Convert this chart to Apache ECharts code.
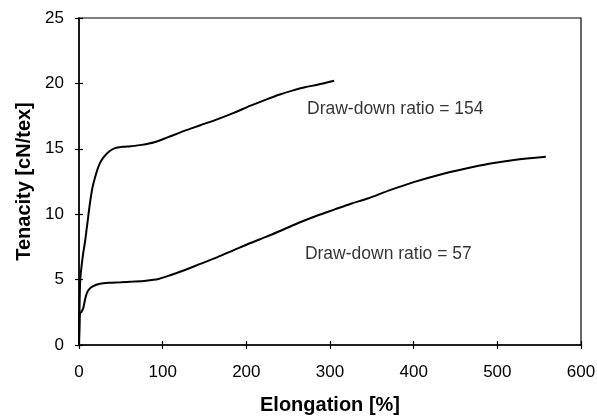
<!DOCTYPE html>
<html>
<head>
<meta charset="utf-8">
<script src="https://cdn.jsdelivr.net/npm/echarts@6/dist/echarts.min.js"></script>
<style>html,body{margin:0;padding:0;background:#fff}#c{width:597px;height:416px}</style>
</head>
<body>
<div id="c"></div>
<script>
// Draw-down ratio = 154 (elongation %, tenacity cN/tex)
var ddr154X = [0, 0.8, 1.5, 3, 5, 7, 9, 11, 13, 16, 20, 25, 30, 36, 43, 52, 62, 75, 90, 105, 125, 145, 165, 185, 205, 225, 240, 255, 270, 285, 305];
var ddr154Y = [0, 3.5, 5.0, 6.0, 7.0, 7.8, 8.8, 9.8, 10.8, 12.0, 13.0, 13.9, 14.4, 14.8, 15.05, 15.15, 15.2, 15.3, 15.5, 15.85, 16.35, 16.8, 17.25, 17.75, 18.3, 18.8, 19.15, 19.45, 19.7, 19.9, 20.2];
// Draw-down ratio = 57
var ddr57X = [0, 0.6, 1.2, 3, 5, 7, 9, 12, 17, 25, 35, 50, 65, 80, 95, 105, 125, 145, 165, 185, 205, 225, 245, 265, 285, 305, 325, 345, 370, 400, 430, 460, 490, 520, 558];
var ddr57Y = [0, 1.5, 2.4, 2.55, 2.8, 3.4, 3.9, 4.25, 4.5, 4.68, 4.76, 4.8, 4.85, 4.92, 5.05, 5.25, 5.7, 6.2, 6.7, 7.25, 7.8, 8.3, 8.85, 9.4, 9.9, 10.35, 10.8, 11.2, 11.8, 12.45, 13.0, 13.45, 13.85, 14.15, 14.4];
var labels = [
  {x: 272.5, y: 18.05, text: 'Draw-down ratio = 154'},
  {x: 270, y: 6.96, text: 'Draw-down ratio = 57'}
];
var xName = 'Elongation [%]';
var yName = 'Tenacity [cN/tex]';

function pairs(xs, ys){ return xs.map(function(x,i){ return [x, ys[i]]; }); }
var font = 'Liberation Sans, Arial, sans-serif';
var chart = echarts.init(document.getElementById('c'), null, {renderer:'canvas'});
var axisLine = {show:true, lineStyle:{color:'#000', width:1.5}};
chart.setOption({
  animation:false,
  backgroundColor:'#fff',
  grid:{left:79, right:16, top:18, bottom:71, show:true, borderColor:'#000', borderWidth:1.2, containLabel:false, outerBoundsMode:'none'},
  xAxis:[{
    type:'value', min:0, max:600, interval:100,
    name:xName, nameLocation:'middle', nameGap:50,
    nameTextStyle:{fontFamily:font, fontWeight:'bold', fontSize:20, color:'#000'},
    axisLine:axisLine,
    axisTick:{show:true, length:4, lineStyle:{color:'#000', width:1.2}},
    axisLabel:{fontFamily:font, fontSize:17, color:'#000', margin:19},
    splitLine:{show:false}
  },{
    type:'value', min:0, max:600, interval:100, position:'bottom',
    axisLine:{show:false}, axisLabel:{show:false}, splitLine:{show:false},
    axisTick:{show:true, inside:true, length:4, lineStyle:{color:'#000', width:1.2}}
  }],
  yAxis:[{
    type:'value', min:0, max:25, interval:5,
    name:yName, nameLocation:'middle', nameGap:44,
    nameTextStyle:{fontFamily:font, fontWeight:'bold', fontSize:20, color:'#000'},
    axisLine:axisLine,
    axisTick:{show:true, length:4, lineStyle:{color:'#000', width:1.2}},
    axisLabel:{fontFamily:font, fontSize:17, color:'#000', margin:15},
    splitLine:{show:false}
  },{
    type:'value', min:0, max:25, interval:5, position:'left',
    axisLine:{show:false}, axisLabel:{show:false}, splitLine:{show:false},
    axisTick:{show:true, inside:true, length:4, lineStyle:{color:'#000', width:1.2}}
  }],
  series:[{
    type:'line', data:pairs(ddr154X, ddr154Y), smooth:0.3, showSymbol:false,
    lineStyle:{color:'#000', width:2}
  },{
    type:'line', data:pairs(ddr57X, ddr57Y), smooth:0.3, showSymbol:false,
    lineStyle:{color:'#000', width:2}
  },{
    type:'scatter', symbolSize:0,
    data:labels.map(function(l){ return {value:[l.x, l.y], name:l.text}; }),
    label:{show:true, position:'right', distance:0, formatter:'{b}',
      fontFamily:font, fontSize:17.5, color:'#000'}
  }]
});
</script>
</body>
</html>
